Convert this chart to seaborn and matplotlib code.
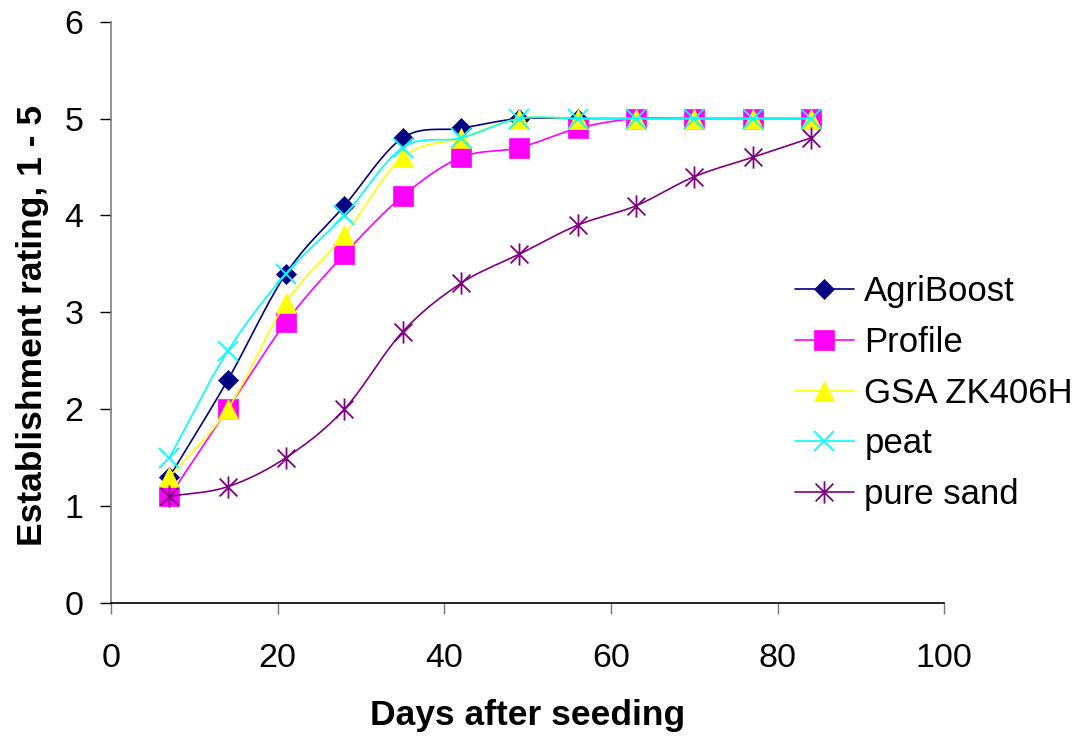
import numpy as np
import matplotlib
matplotlib.use("Agg")
import matplotlib.pyplot as plt
import seaborn as sns
from matplotlib.lines import Line2D
from matplotlib.path import Path

days = [7, 14, 21, 28, 35, 42, 49, 56, 63, 70, 77, 84]
agriboost = [1.3, 2.3, 3.4, 4.1, 4.8, 4.9, 5.0, 5.0, 5.0, 5.0, 5.0, 5.0]
profile = [1.1, 2.0, 2.9, 3.6, 4.2, 4.6, 4.7, 4.9, 5.0, 5.0, 5.0, 5.0]
gsa_zk406h = [1.3, 2.0, 3.1, 3.8, 4.6, 4.8, 5.0, 5.0, 5.0, 5.0, 5.0, 5.0]
peat = [1.5, 2.6, 3.4, 4.0, 4.7, 4.8, 5.0, 5.0, 5.0, 5.0, 5.0, 5.0]
pure_sand = [1.1, 1.2, 1.5, 2.0, 2.8, 3.3, 3.6, 3.9, 4.1, 4.4, 4.6, 4.8]

series_names = ["AgriBoost", "Profile", "GSA ZK406H", "peat", "pure sand"]
series_values = [agriboost, profile, gsa_zk406h, peat, pure_sand]
colors = ["#000080", "#FF00FF", "#FFFF00", "#00FFFF", "#800080"]

# asterisk: an X with a vertical bar through it
asterisk = Path(
    [(-1, -1), (1, 1), (-1, 1), (1, -1), (0, -1.25), (0, 1.25)],
    [Path.MOVETO, Path.LINETO, Path.MOVETO, Path.LINETO, Path.MOVETO, Path.LINETO],
)
markers = ["D", "s", "^", "x", asterisk]
msizes = [10.5, 14.5, 14.5, 14.5, 16]

sns.set_theme(style="white")
plt.rcParams["font.family"] = ["Liberation Sans", "DejaVu Sans"]
plt.rcParams["text.color"] = "black"
plt.rcParams["axes.labelcolor"] = "black"
plt.rcParams["xtick.color"] = "black"
plt.rcParams["ytick.color"] = "black"


def smooth(x, y, n=20):
    """Smoothed curve through the points (Bezier segments, Catmull-Rom tangents)."""
    x = np.asarray(x, float)
    y = np.asarray(y, float)
    px = np.concatenate([[2 * x[0] - x[1]], x, [2 * x[-1] - x[-2]]])
    py = np.concatenate([[2 * y[0] - y[1]], y, [2 * y[-1] - y[-2]]])
    xs, ys = [], []
    t = np.linspace(0, 1, n, endpoint=False)
    for i in range(1, len(px) - 2):
        p0, p1, p2, p3 = (np.array([px[j], py[j]]) for j in range(i - 1, i + 3))
        c1 = p1 + (p2 - p0) / 6
        c2 = p2 - (p3 - p1) / 6
        pts = ((1 - t) ** 3)[:, None] * p1 + (3 * (1 - t) ** 2 * t)[:, None] * c1 \
            + (3 * (1 - t) * t ** 2)[:, None] * c2 + (t ** 3)[:, None] * p2
        xs.append(pts[:, 0])
        ys.append(pts[:, 1])
    xs.append([x[-1]])
    ys.append([y[-1]])
    return np.concatenate(xs), np.concatenate(ys)


fig = plt.figure(figsize=(10.89, 7.49), dpi=100)
ax = fig.add_axes([0.102, 0.195, 0.765, 0.776])

handles = []
for name, vals, c, m, ms in zip(series_names, series_values, colors, markers, msizes):
    sx, sy = smooth(days, vals)
    sns.lineplot(x=sx, y=sy, ax=ax, color=c, lw=1.2, sort=False, estimator=None)
    stroke = (m == "x") or isinstance(m, Path)
    mk = dict(marker=m, markersize=ms, color=c, markerfacecolor=c, markeredgecolor=c,
              markeredgewidth=1.3 if stroke else 0.5)
    ax.plot(days, vals, ls="none", **mk)
    handles.append(Line2D([0], [0], lw=1.2, **mk))

ax.set_xlim(0, 100)
ax.set_ylim(0, 6)
ax.set_xticks([0, 20, 40, 60, 80, 100])
ax.set_yticks([0, 1, 2, 3, 4, 5, 6])
ax.tick_params(axis="both", labelsize=24.5, length=8, width=1.0, direction="out",
               left=True, bottom=True)
ax.tick_params(axis="x", pad=21, color="#777777")
ax.tick_params(axis="y", pad=12, color="black")
for s in ("top", "right"):
    ax.spines[s].set_visible(False)
ax.spines["left"].set_color("#808080")
ax.spines["bottom"].set_color("black")
for s in ("left", "bottom"):
    ax.spines[s].set_linewidth(1.2)

ax.set_xlabel("Days after seeding", fontsize=25.5, fontweight="bold")
ax.set_ylabel("Establishment rating, 1 - 5", fontsize=25.5, fontweight="bold")
ax.xaxis.set_label_coords(0.5, -0.165)
ax.yaxis.set_label_coords(-0.074, 0.478)

fig.legend(handles, series_names, loc="center left", bbox_to_anchor=(0.730, 0.475),
           frameon=False, fontsize=25, handlelength=1.7, labelspacing=0.51,
           handletextpad=0.3, borderpad=0, borderaxespad=0)

fig.savefig("out.png", dpi=100)
